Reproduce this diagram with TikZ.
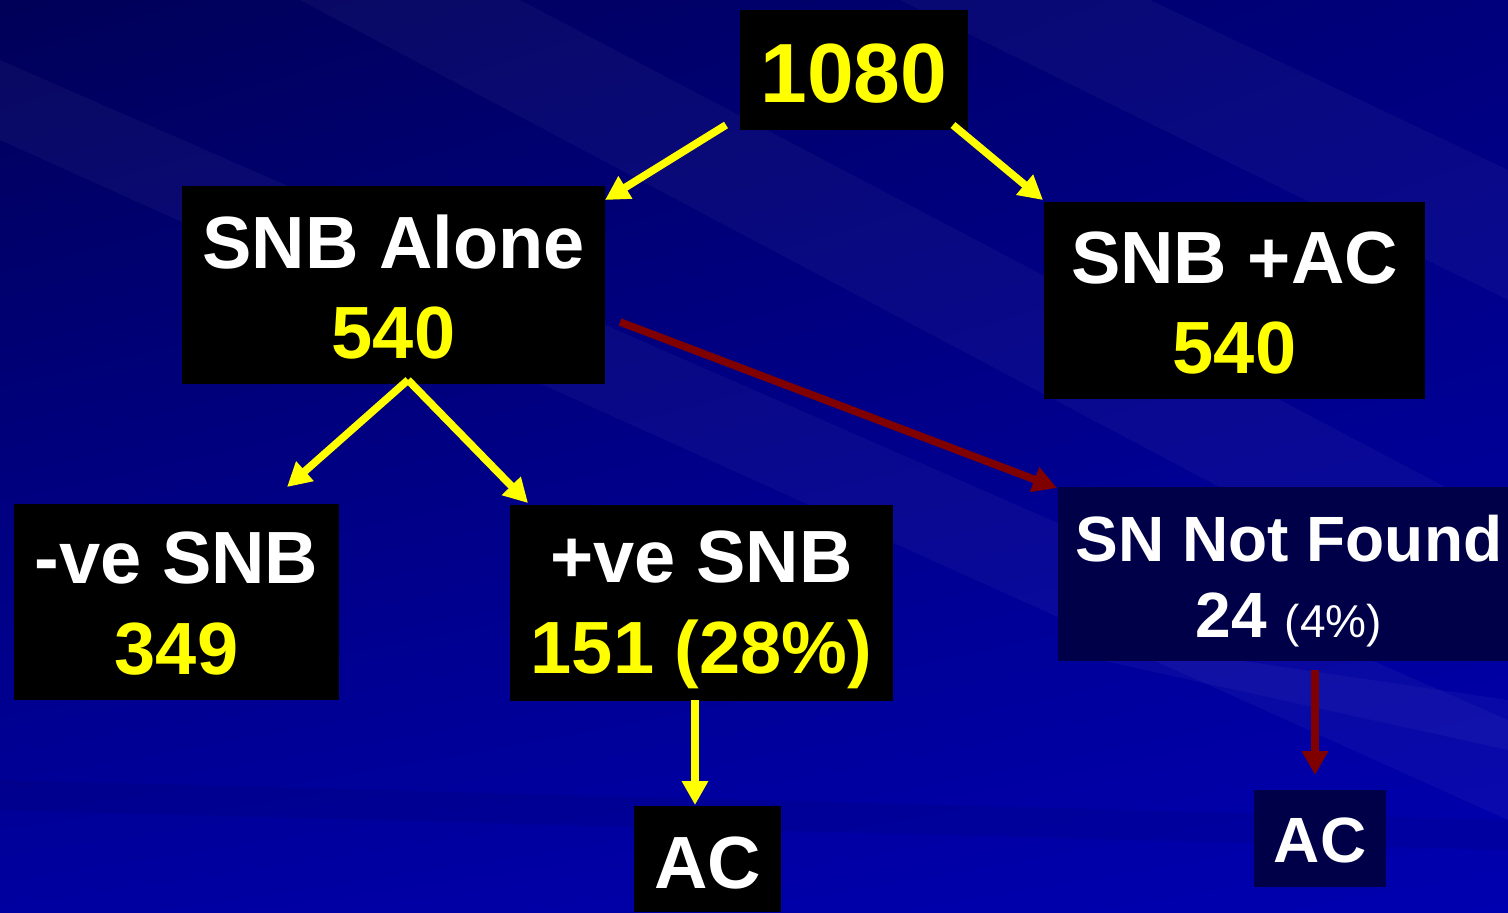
\documentclass[tikz,border=0pt]{standalone}
\usepackage{fontspec}
\setmainfont{Liberation Sans}
\usetikzlibrary{arrows.meta,shadings}
\definecolor{bgA}{HTML}{000058}
\definecolor{bgB}{HTML}{00007C}
\definecolor{bgC}{HTML}{0000A0}
\definecolor{bgD}{HTML}{0000B0}
\definecolor{boxnavy}{HTML}{000048}
\definecolor{darkred}{HTML}{800000}
\definecolor{yel}{HTML}{FFFF00}
\tikzset{
  box/.style={fill=black, inner sep=0pt},
  navybox/.style={box, fill=boxnavy},
  label text/.style={inner sep=0pt, align=center, text=white},
  yarrow/.style={draw=yel, line width=3.8pt, -{Triangle[width=12.5pt,length=12pt]}},
  rarrow/.style={draw=darkred, line width=3.8pt, -{Triangle[width=12.5pt,length=12pt]}},
  streak/.style={fill=white, opacity=0.035}
}
\begin{document}
\begin{tikzpicture}[x=0.5pt,y=-0.5pt]
\useasboundingbox (0,0) rectangle (1508,912);
% background
\shade[upper left=bgA, upper right=bgB, lower left=bgC, lower right=bgD] (0,0) rectangle (1508,912);
\fill[streak] (300,0) -- (520,0) -- (1508,520) -- (1508,640) -- cycle;
\fill[streak] (0,60) -- (0,140) -- (1508,820) -- (1508,720) -- cycle;
\fill[streak] (900,0) -- (1150,0) -- (1508,170) -- (1508,300) -- cycle;
\fill[streak] (1100,640) -- (1508,700) -- (1508,750) -- (1100,660) -- cycle;
\fill[black, opacity=0.06] (0,780) -- (1508,820) -- (1508,850) -- (0,810) -- cycle;

% boxes
\node[box, minimum width=114pt, minimum height=60pt] (n1080) at (854,70) {};
\node[box, minimum width=211.5pt, minimum height=99pt] (alone) at (393.5,285) {};
\node[box, minimum width=190.5pt, minimum height=98.5pt] (plusac) at (1234.5,300.5) {};
\node[box, minimum width=162.5pt, minimum height=98pt] (neg) at (176.5,602) {};
\node[box, minimum width=191.5pt, minimum height=98pt] (pos) at (701.5,602.5) {};
\node[navybox, minimum width=231pt, minimum height=87pt] (notfound) at (1289,574) {};
\node[box, minimum width=73.5pt, minimum height=53pt] (ac1) at (707.5,859) {};
\node[navybox, minimum width=66pt, minimum height=48.5pt] (ac2) at (1320,838.5) {};

% texts
\node[label text, text=yel, font=\bfseries\fontsize{42}{50}\selectfont]
  (n1080t) at ([yshift=-2pt]n1080.center) {1080};
\node[label text, font=\bfseries\fontsize{37}{45}\selectfont]
  (alonet) at ([yshift=-1pt]alone.center) {SNB Alone\\\textcolor{yel}{540}};
\node[label text, font=\bfseries\fontsize{37}{45}\selectfont]
  (plusact) at ([yshift=-1.5pt]plusac.center) {SNB +AC\\\textcolor{yel}{540}};
\node[label text, font=\bfseries\fontsize{37}{45.5}\selectfont]
  (negt) at ([yshift=-1pt]neg.center) {-ve SNB\\\textcolor{yel}{349}};
\node[label text, font=\bfseries\fontsize{37}{45.5}\selectfont]
  (post) at ([yshift=-3.5pt]pos.center) {+ve SNB\\\textcolor{yel}{151 (28\%)}};
\node[label text, font=\bfseries\fontsize{32}{38}\selectfont]
  (notfoundt) at ([yshift=-3.5pt]notfound.center) {SN Not Found\\24 {\mdseries\fontsize{23}{38}\selectfont(4\%)}};
\node[label text, font=\bfseries\fontsize{37}{44}\selectfont]
  (ac1t) at ([yshift=-2pt]ac1.center) {AC};
\node[label text, font=\bfseries\fontsize{32}{38}\selectfont]
  (ac2t) at ([yshift=-1pt]ac2.center) {AC};

% connector end points
\coordinate (s1) at (726,125);
\coordinate (t1) at (605,200);
\coordinate (s2) at (953,125);
\coordinate (t2) at (1043,200);
\coordinate (s3) at (408,380);
\coordinate (t3) at (287,487);
\coordinate (t4) at (528,503);
\coordinate (s5) at (620,322);
\coordinate (t5) at (1057,488);
\coordinate (s6) at (695,700);
\coordinate (t6) at (695,805);
\coordinate (s7) at (1315,670);
\coordinate (t7) at (1315,775);

\draw[yarrow] (s1) -- (t1);
\draw[yarrow] (s2) -- (t2);
\draw[yarrow] (s3) -- (t3);
\draw[yarrow] (s3) -- (t4);
\draw[rarrow] (s5) -- (t5);
\draw[yarrow] (s6) -- (t6);
\draw[rarrow] (s7) -- (t7);
\end{tikzpicture}
\end{document}
